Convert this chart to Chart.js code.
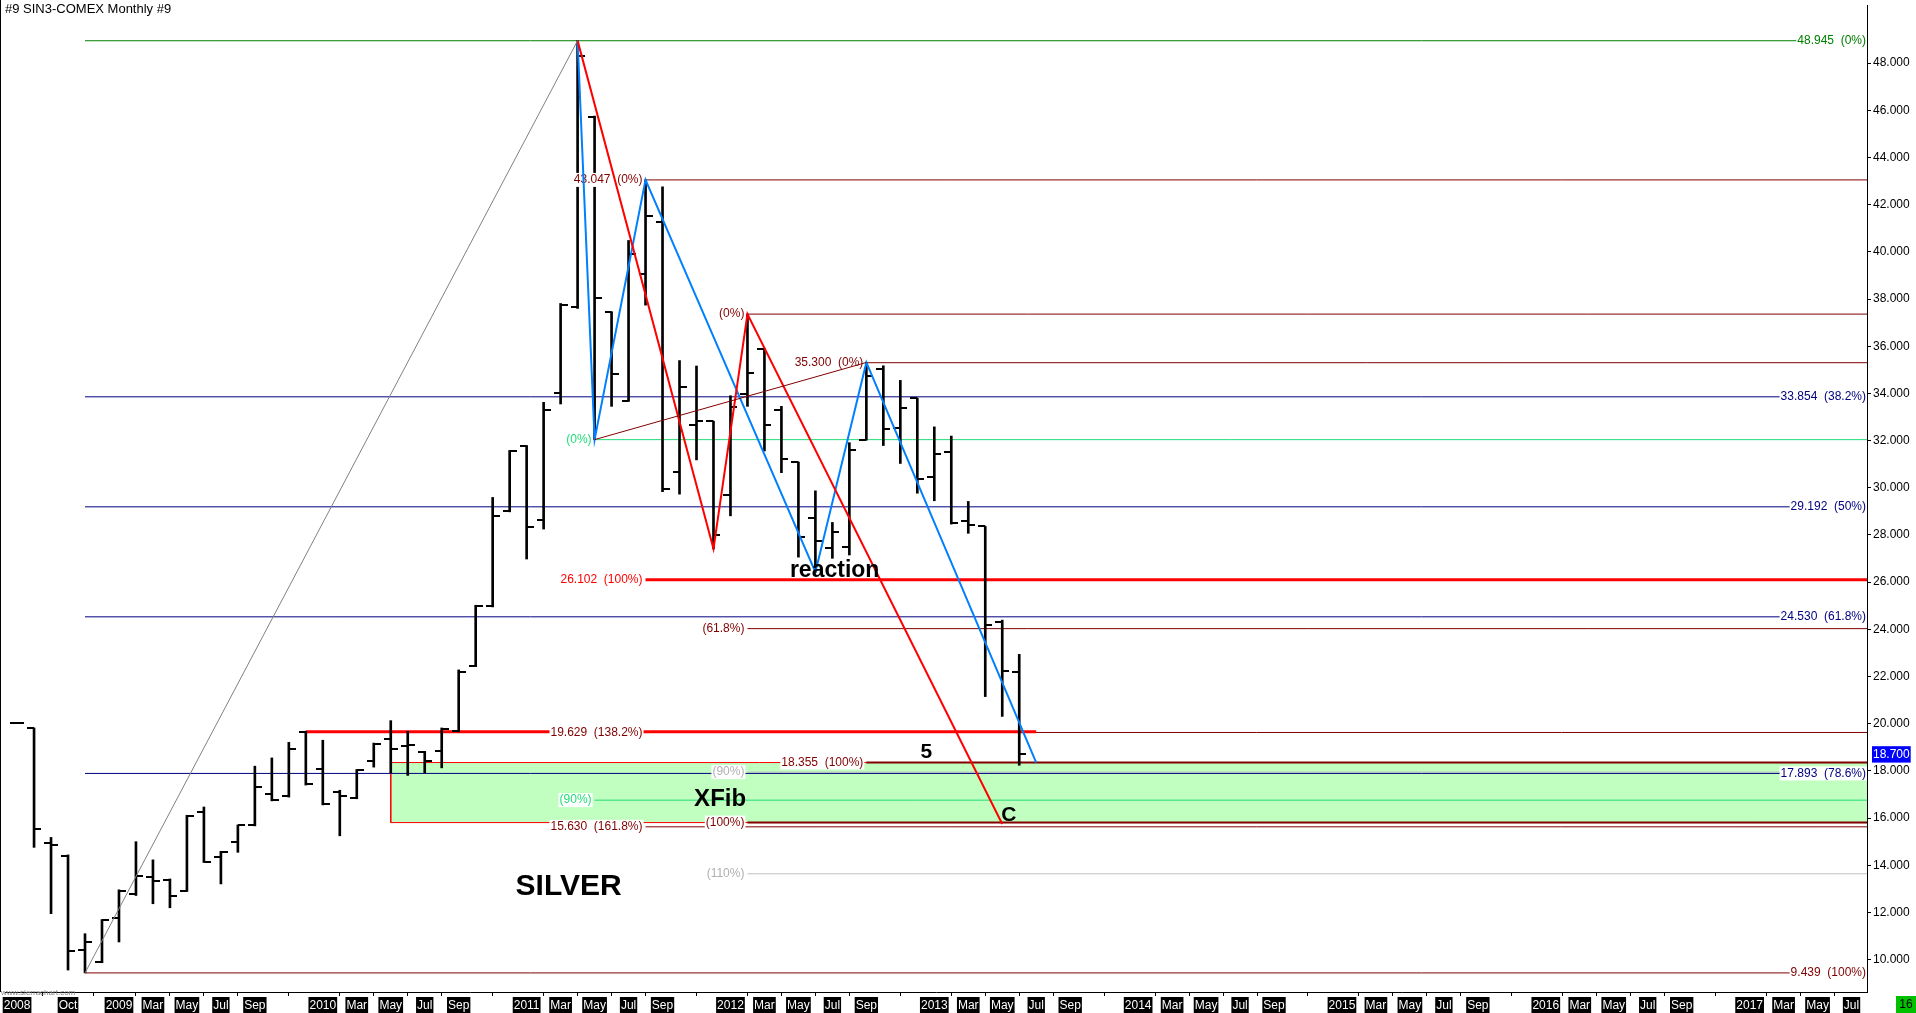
<!DOCTYPE html>
<html>
<head>
<meta charset="utf-8">
<script src="https://cdn.jsdelivr.net/npm/chart.js@4.4.1/dist/chart.umd.min.js"></script>
<style>
html,body{margin:0;padding:0;background:#fff;overflow:hidden}
canvas{display:block}
</style>
</head>
<body>
<canvas id="silver_cntxt" width="1916" height="1013"></canvas>
<script>
// monthly bars, month index = months since Jan 2008
var months = [6,7,8,9,10,11,12,13,14,15,16,17,18,19,20,21,22,23,24,25,26,27,28,29,30,31,32,33,34,35,
              36,37,38,39,40,41,42,43,44,45,46,47,48,49,50,51,52,53,54,55,56,57,58,59,60,61,62,63,64,65];
var open  = [20.05,19.82,14.93,14.41,10.43,9.91,11.76,12.79,13.49,13.38,12.93,16.26,14.34,14.97,15.70,17.03,16.94,19.65,18.06,17.12,
             16.86,18.44,19.35,19.05,18.80,18.83,19.68,22.43,24.99,29.03,31.77,28.65,34.01,37.67,45.71,37.43,33.69,39.07,41.25,30.67,
             32.66,32.82,29.70,33.98,35.87,33.28,31.09,28.70,27.45,27.48,32.04,35.02,32.54,33.80,30.47,31.51,28.60,28.36,24.29,22.18];
var high  = [20.06,19.82,15.18,14.44,11.10,11.70,12.96,15.00,14.23,13.42,16.12,16.47,14.59,15.71,18.20,18.55,19.21,19.68,19.30,17.18,
             18.06,19.18,20.13,19.68,18.83,19.82,22.28,25.02,29.59,31.58,31.79,33.62,37.81,48.95,45.75,37.46,40.48,43.05,42.75,35.39,
             35.16,32.82,33.90,37.36,35.91,33.45,31.09,29.87,28.53,31.91,35.31,35.17,34.55,33.80,32.58,32.19,29.42,28.36,24.39,22.94];
var low   = [20.04,14.76,11.95,9.56,9.44,9.87,10.75,12.72,12.37,12.20,12.89,14.12,13.21,14.55,15.67,16.73,16.89,17.40,16.56,15.25,
             16.82,18.16,17.92,17.81,17.92,18.13,19.65,22.42,24.95,28.98,26.98,28.25,33.55,37.60,32.04,33.45,33.66,37.74,29.83,29.73,
             31.18,27.41,28.81,33.45,31.56,30.64,27.06,26.42,27.01,27.15,32.02,31.79,31.03,29.77,29.45,28.46,28.07,21.15,20.31,18.24];
var close = [20.05,15.53,14.85,10.36,10.75,11.69,12.93,13.56,13.35,12.71,16.09,14.15,14.58,15.71,17.32,16.75,18.93,17.43,16.59,16.94,
             18.03,19.16,18.93,19.08,18.41,19.79,22.21,24.99,28.81,31.56,28.32,33.31,37.74,48.28,38.05,34.81,39.89,41.50,29.94,34.27,
             32.85,28.01,33.42,34.86,32.65,31.20,27.93,27.76,28.11,31.62,34.74,32.50,33.37,30.36,31.45,28.49,28.42,24.18,22.24,18.70];
var lastPrice = 18.700;

var tickMonths = [6,9,12,14,16,18,20,24,26,28,30,32,36,38,40,42,44,48,50,52,54,56,60,62,64,66,68,
                  72,74,76,78,80,84,86,88,90,92,96,98,100,102,104,108,110,112,114];
var tickLabels = ['2008','Oct','2009','Mar','May','Jul','Sep','2010','Mar','May','Jul','Sep','2011','Mar','May','Jul','Sep',
                  '2012','Mar','May','Jul','Sep','2013','Mar','May','Jul','Sep','2014','Mar','May','Jul','Sep',
                  '2015','Mar','May','Jul','Sep','2016','Mar','May','Jul','Sep','2017','Mar','May','Jul'];
var yTicks = [10,12,14,16,18,20,22,24,26,28,30,32,34,36,38,40,42,44,46,48];

// retracement of Nov 2008 low -> Apr 2011 high
var retrFrom = 10;
var retrLevels = [48.945, 33.854, 29.192, 24.530, 17.893, 9.439];
var retrLabels = ['48.945  (0%)','33.854  (38.2%)','29.192  (50%)','24.530  (61.8%)','17.893  (78.6%)','9.439  (100%)'];

// anchored fib levels
var fibLevels = [43.047, 37.36, 35.300, 32.04, 26.102, 24.03, 19.629, 18.355, 17.95, 16.76, 15.630, 15.81, 13.64];
var fibFrom   = [43, 49, 56, 40, 43, 49, 43, 56, 49, 40, 43, 49, 49];
var fibLabels = ['43.047  (0%)','(0%)','35.300  (0%)','(0%)','26.102  (100%)','(61.8%)','19.629  (138.2%)',
                 '18.355  (100%)','(90%)','(90%)','15.630  (161.8%)','(100%)','(110%)'];
var fibKind   = ['dk','dk','dk','lime','red','dk','dk','dk2','gray','lime','dk','dk2','gray'];

// XFib zone and Dec 2009 high ray
var zoneFrom = 28, zoneTop = 18.355, zoneBottom = 15.81;
var rayFrom = 23, rayTo = 66, rayLevel = 19.66;

// wave drawings
var redWaveX  = [39, 47, 49, 64];
var redWaveY  = [48.95, 27.41, 37.36, 15.75];
var blueWaveX = [39, 40, 43, 53, 56, 66];
var blueWaveY = [48.95, 32.04, 43.05, 26.42, 35.31, 18.355];
var grayLineX = [10, 39];
var grayLineY = [9.439, 48.95];
var trendX = [40, 56];
var trendY = [32.04, 35.31];

var notes = [
  {text:'SILVER', x:35.35, y:12.72, size:30},
  {text:'XFib', x:45.86, y:16.51, size:24},
  {text:'reaction', x:51.50, y:26.21, size:23},
  {text:'5', x:59.19, y:18.54, size:21},
  {text:'C', x:63.94, y:15.88, size:21}
];

var FONT = "'Liberation Sans', Arial, sans-serif";
var X_MIN = 5.29, X_MAX = 114.91, Y_MIN = 8.63, Y_MAX = 50.46;

var kindStyle = {
  dk:   {color:'#800000', width:1, text:'#800000'},
  dk2:  {color:'#800000', width:2, text:'#800000'},
  red:  {color:'#ff0000', width:3, text:'#ff0000'},
  lime: {color:'#22dd77', width:1, text:'#22dd77'},
  gray: {color:'#c0c0c0', width:1, text:'#b0b0b0'}
};
var retrColors = ['#008000','#000080','#000080','#000080','#000080','#800000'];

function hline(v, from, to, color, width, order) {
  return {type:'line', data:[{x:from, y:v},{x:to, y:v}], borderColor:color, borderWidth:width,
          pointRadius:0, fill:false, order:order};
}
function path(xs, ys, color, width) {
  return {type:'line', data:xs.map(function(x, i){ return {x:x, y:ys[i]}; }), borderColor:color,
          borderWidth:width, pointRadius:0, fill:false, order:10};
}
function tickImage(side) {
  var c = document.createElement('canvas');
  c.width = 14; c.height = 2;
  var g = c.getContext('2d');
  g.fillStyle = '#000';
  g.fillRect(side == 'open' ? 0 : 7, 0, 7, 2);
  return c;
}
function label(ctx, text, xr, yc, color) {
  var w = ctx.measureText(text).width;
  ctx.fillStyle = '#fff';
  ctx.fillRect(xr - w - 1, yc - 7, w + 2, 14);
  ctx.fillStyle = color;
  ctx.fillText(text, xr, yc);
}

var datasets = [];
datasets.push({type:'line', data:[{x:zoneFrom, y:zoneTop},{x:X_MAX, y:zoneTop}], fill:{value:zoneBottom},
               backgroundColor:'#c0ffc0', borderWidth:0, pointRadius:0, order:100});
datasets.push({type:'line', data:[{x:X_MAX, y:zoneTop},{x:zoneFrom, y:zoneTop},{x:zoneFrom, y:zoneBottom},{x:X_MAX, y:zoneBottom}],
               borderColor:'#ff0000', borderWidth:1, pointRadius:0, fill:false, order:60});
retrLevels.forEach(function(v, i){ datasets.push(hline(v, retrFrom, X_MAX, retrColors[i], 1, 50)); });
fibLevels.forEach(function(v, i){
  var s = kindStyle[fibKind[i]];
  datasets.push(hline(v, fibFrom[i], X_MAX, s.color, s.width, s.width > 1 ? 48 : 50));
});
datasets.push(hline(rayLevel, rayFrom, rayTo, '#ff0000', 3, 45));
datasets.push({type:'bar', data:months.map(function(m, i){ return {x:m, y:[low[i], high[i]]}; }),
               backgroundColor:'#000', barThickness:2, grouped:false, order:30});
datasets.push({type:'line', showLine:false, data:months.map(function(m, i){ return {x:m, y:open[i]}; }),
               pointStyle:tickImage('open'), pointRadius:3, order:29});
datasets.push({type:'line', showLine:false, data:months.map(function(m, i){ return {x:m, y:close[i]}; }),
               pointStyle:tickImage('close'), pointRadius:3, order:28, labelsAfter:true});
datasets.push(path(grayLineX, grayLineY, '#808080', 1));
datasets.push(path(trendX, trendY, '#800000', 1));
datasets.push(path(redWaveX, redWaveY, '#ff0000', 2));
datasets.push(path(blueWaveX, blueWaveY, '#0080ff', 2));

var annotate = {
  id: 'annotate',
  afterDatasetDraw: function(chart, args) {
    if (!chart.data.datasets[args.index].labelsAfter) return;
    var ctx = chart.ctx, a = chart.chartArea, xs = chart.scales.x, ys = chart.scales.y;
    ctx.save();
    ctx.font = '12px ' + FONT;
    ctx.textAlign = 'right';
    ctx.textBaseline = 'middle';
    fibLevels.forEach(function(v, i){
      label(ctx, fibLabels[i], xs.getPixelForValue(fibFrom[i]) - 3, ys.getPixelForValue(v), kindStyle[fibKind[i]].text);
    });
    retrLevels.forEach(function(v, i){
      label(ctx, retrLabels[i], a.right - 1, ys.getPixelForValue(v), retrColors[i]);
    });
    ctx.restore();
  },
  afterDraw: function(chart) {
    var ctx = chart.ctx, a = chart.chartArea, xs = chart.scales.x, ys = chart.scales.y;
    ctx.save();
    ctx.fillStyle = '#000';
    ctx.fillRect(0, 0, 1, a.bottom);
    ctx.font = '13px ' + FONT;
    ctx.textAlign = 'left';
    ctx.textBaseline = 'top';
    ctx.fillText('#9 SIN3-COMEX Monthly #9', 5, 3);
    ctx.textBaseline = 'alphabetic';
    notes.forEach(function(n){
      ctx.font = 'bold ' + n.size + 'px ' + FONT;
      ctx.fillText(n.text, xs.getPixelForValue(n.x), ys.getPixelForValue(n.y));
    });
    ctx.font = '8px ' + FONT;
    ctx.fillStyle = '#808080';
    ctx.fillText('www.sierrachart.com', 1, a.bottom + 3);
    ctx.fillStyle = '#00c000';
    ctx.fillRect(1896, 996, 20, 17);
    ctx.fillStyle = '#000';
    ctx.font = '12px ' + FONT;
    ctx.textAlign = 'center';
    ctx.textBaseline = 'middle';
    ctx.fillText('16', 1906, 1005);
    ctx.restore();
  }
};

var current_cntxt = document.getElementById('silver_cntxt').getContext('2d');
var silver_chart = new Chart(current_cntxt, {
  type: 'line',
  data: {datasets: datasets},
  plugins: [annotate],
  options: {
    responsive: false,
    devicePixelRatio: 1,
    animation: false,
    events: [],
    layout: {padding: 0},
    plugins: {legend: {display:false}, tooltip: {enabled:false}, title: {display:false}},
    scales: {
      x: {
        type: 'linear', min: X_MIN, max: X_MAX, offset: false, bounds: 'data',
        afterBuildTicks: function(s){ s.ticks = tickMonths.map(function(v){ return {value:v}; }); },
        afterFit: function(s){ s.height = 21; s.paddingLeft = 0; s.paddingRight = 0; },
        grid: {display:true, drawOnChartArea:false, drawTicks:true, tickLength:4, color:'#000'},
        border: {display:true, color:'#000', width:1},
        ticks: {autoSkip:false, maxRotation:0, minRotation:0, padding:2, color:'#fff',
                font:{family:FONT, size:12}, showLabelBackdrop:true, backdropColor:'#000',
                backdropPadding:{top:1, bottom:1, left:1, right:1},
                callback: function(v, i){ return tickLabels[i]; }}
      },
      y: {
        type: 'linear', position: 'right', min: Y_MIN, max: Y_MAX, bounds: 'data',
        afterBuildTicks: function(s){
          s.ticks = yTicks.map(function(v){ return {value:v}; }).concat([{value:lastPrice}]);
        },
        afterFit: function(s){ s.width = 49; s.paddingTop = 0; s.paddingBottom = 0; },
        grid: {display:true, drawOnChartArea:false, drawTicks:true, tickLength:4,
               color: function(c){ return c.tick && c.tick.value === lastPrice ? 'rgba(0,0,0,0)' : '#000'; }},
        border: {display:true, color:'#000', width:1},
        ticks: {autoSkip:false, padding:2, font:{family:FONT, size:12},
                color: function(c){ return c.tick && c.tick.value === lastPrice ? '#fff' : '#000'; },
                showLabelBackdrop: true,
                backdropColor: function(c){ return c.tick && c.tick.value === lastPrice ? '#0000ff' : 'rgba(0,0,0,0)'; },
                backdropPadding: 1,
                callback: function(v){ return v.toFixed(3); }}
      }
    }
  }
});
</script>
</body>
</html>
